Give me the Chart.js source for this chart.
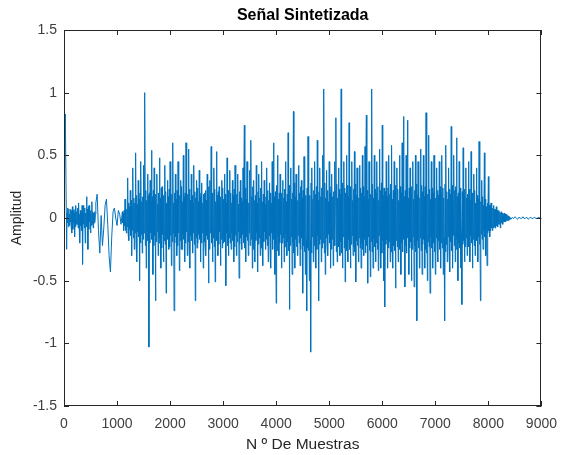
<!DOCTYPE html>
<html>
<head>
<meta charset="utf-8">
<script src="https://cdn.jsdelivr.net/npm/chart.js@4"></script>
<style>
  body { margin: 0; background: #fff; }
  #senal { display: block; }
</style>
</head>
<body>
<canvas id="senal" width="567" height="455"></canvas>
<script>
// separacion entre lecturas de la figura (en muestras)
const paso = 25;

// 0 - 1075: arranque de baja amplitud (picos leidos)
const inicio = [
  0.0, 0.83, -0.25, 0.08, -0.06, 0.07, -0.12, 0.06, -0.15, 0.1,
  -0.05, 0.12, -0.2, 0.05, -0.37, 0.1, -0.2, 0.17, -0.25, 0.1,
  -0.12, 0.13, -0.08, 0.05, 0.12, 0.19, -0.1, -0.28, 0.02, -0.22,
  -0.08, 0.1, 0.15, -0.05, -0.3, -0.43, -0.15, 0.05, 0.08, 0.0,
  -0.06, 0.06, 0.03, -0.05
];

// 1100 - 7975: cuerpo de la senal (picos leidos)
const cuerpo = [
  0.05, -0.1, 0.15, -0.12, 0.32, -0.18, 0.22, -0.3, 0.4, -0.25, 0.52, -0.35, 0.3, -0.5, 0.45, -0.28, 0.42, 1.0, -0.4, 0.35,
  -1.03, 0.3, 0.54, -0.45, 0.4, -0.66, 0.35, -0.3, 0.48, -0.4, 0.25, -0.35, 0.42, -0.6, 0.3, -0.25, 0.45, -0.38, 0.6, -0.74,
  0.35, -0.3, 0.45, -0.42, 0.3, -0.25, 0.5, -0.35, 0.6, -0.3, 0.55, -0.4, 0.35, -0.28, 0.42, -0.66, 0.3, -0.2, 0.38, -0.35,
  0.28, -0.4, 0.2, -0.3, 0.35, -0.52, 0.3, 0.57, -0.35, 0.4, -0.51, 0.53, -0.3, 0.25, -0.38, 0.3, -0.2, 0.35, -0.54, 0.48,
  -0.3, 0.38, -0.25, 0.3, -0.35, 0.42, -0.3, 0.35, -0.48, 0.3, -0.25, 0.4, 0.74, -0.35, 0.45, -0.3, 0.38, 0.62, -0.4, 0.3,
  -0.35, 0.42, -0.43, 0.35, -0.3, 0.45, -0.38, 0.3, -0.25, 0.4, -0.35, 0.28, -0.4, 0.45, 0.6, -0.45, -0.68, 0.5, -0.3, 0.35,
  -0.4, 0.3, -0.35, 0.45, -0.3, 0.68, -0.73, 0.4, -0.45, 0.85, -0.4, 0.35, -0.3, 0.42, -0.38, 0.3, -0.6, 0.49, -0.45, -0.74,
  0.65, -0.5, -1.07, 0.4, -0.35, 0.45, -0.4, 0.62, -0.66, 0.4, -0.35, 0.5, 1.03, -0.45, 0.38, -0.3, 0.45, -0.4, 0.35, -0.38,
  0.45, 0.8, -0.35, 0.4, -0.3, 1.03, -0.4, 0.45, -0.51, 0.5, -0.35, 0.76, -0.4, 0.45, -0.3, 0.53, -0.51, 0.4, -0.35, 0.42,
  -0.4, 0.5, -0.3, 0.57, 0.82, -0.52, 0.45, -0.47, 1.03, -0.4, 0.5, -0.35, 0.45, -0.42, 0.55, -0.4, 0.74, -0.5, -0.71, 0.45,
  -0.4, 0.5, -0.35, 0.58, -0.4, 0.45, -0.56, 0.4, -0.35, 0.5, -0.45, 0.6, 0.81, -0.55, 0.5, 0.78, -0.45, 0.4, -0.5, 0.45,
  -0.55, 0.5, -0.82, 0.45, -0.4, 0.55, -0.45, 0.5, -0.4, 0.84, -0.5, 0.66, -0.6, 0.45, -0.4, 0.5, -0.45, 0.4, -0.35, 0.45,
  -0.4, 0.5, -0.45, -0.82, 0.58, -0.35, 0.4, -0.43, 0.73, -0.4, 0.5, -0.35, 0.64, -0.5, 0.45, -0.4, -0.69, 0.56, -0.35, 0.4,
  -0.3, 0.45, -0.35, 0.53, -0.4, 0.35, -0.3, 0.4, -0.35, 0.61, -0.66, 0.3, -0.25, 0.52, -0.3, -0.38
];

// 8000 - 8975: decaimiento y silencio
const cola = [
  0.33, -0.15, 0.12, -0.1, 0.1, -0.08, 0.09, -0.07, 0.06, -0.08,
  0.05, -0.05, 0.04, -0.03, 0.03, -0.02, 0.01, -0.01, 0.005, -0.005,
  0.01, 0.0, -0.01, 0.005, 0.0, -0.005, 0.01, -0.005, 0.0, 0.005,
  -0.01, 0.0, 0.005, -0.005, 0.0, 0.005, -0.005, 0.0, 0.005, 0.0
];

// amplitud de la banda densa central en cada lectura (null = sin banda)
const nucleoInicio = [
  null, null, 0.04, 0.07, 0.03, 0.06, 0.09, 0.04, 0.07, 0.05,
  0.08, 0.03, 0.06, 0.1, 0.05, 0.08, 0.04, 0.07, 0.09, 0.03,
  0.06, 0.05, 0.04, 0.03, null, null, null, null, null, null,
  null, null, null, null, null, null, null, null, null, null,
  null, null, null, null
];

const nucleoCuerpo = [
  0.04, 0.06, 0.1, 0.07, 0.12, 0.09, 0.14, 0.1, 0.16, 0.12, 0.18, 0.11, 0.15, 0.2, 0.13, 0.17, 0.12, 0.22, 0.14, 0.18,
  0.2, 0.12, 0.17, 0.22, 0.14, 0.19, 0.11, 0.2, 0.16, 0.24, 0.13, 0.18, 0.21, 0.12, 0.17, 0.23, 0.14, 0.19, 0.12, 0.2,
  0.15, 0.22, 0.12, 0.18, 0.25, 0.13, 0.17, 0.2, 0.11, 0.19, 0.23, 0.14, 0.18, 0.12, 0.21, 0.16, 0.24, 0.13, 0.17, 0.2,
  0.12, 0.19, 0.22, 0.14, 0.17, 0.25, 0.12, 0.2, 0.16, 0.23, 0.13, 0.18, 0.21, 0.11, 0.17, 0.24, 0.15, 0.19, 0.12, 0.22,
  0.16, 0.2, 0.12, 0.18, 0.23, 0.14, 0.19, 0.11, 0.21, 0.16, 0.13, 0.2, 0.24, 0.15, 0.18, 0.12, 0.22, 0.17, 0.25, 0.14,
  0.18, 0.12, 0.21, 0.16, 0.24, 0.13, 0.19, 0.11, 0.17, 0.22, 0.14, 0.2, 0.12, 0.25, 0.17, 0.21, 0.26, 0.15, 0.2, 0.13,
  0.2, 0.16, 0.23, 0.13, 0.19, 0.26, 0.22, 0.15, 0.2, 0.28, 0.17, 0.23, 0.14, 0.2, 0.25, 0.16, 0.22, 0.27, 0.18, 0.24,
  0.26, 0.18, 0.28, 0.15, 0.22, 0.19, 0.25, 0.14, 0.21, 0.17, 0.24, 0.2, 0.28, 0.16, 0.22, 0.13, 0.2, 0.25, 0.17, 0.21,
  0.22, 0.27, 0.16, 0.23, 0.19, 0.28, 0.15, 0.24, 0.2, 0.26, 0.17, 0.25, 0.21, 0.14, 0.23, 0.27, 0.18, 0.22, 0.16, 0.24,
  0.2, 0.25, 0.17, 0.28, 0.22, 0.15, 0.26, 0.19, 0.27, 0.16, 0.23, 0.2, 0.25, 0.14, 0.22, 0.28, 0.18, 0.24, 0.21, 0.17,
  0.24, 0.19, 0.27, 0.15, 0.22, 0.26, 0.18, 0.23, 0.14, 0.25, 0.2, 0.27, 0.17, 0.22, 0.28, 0.16, 0.24, 0.19, 0.25, 0.15,
  0.22, 0.27, 0.18, 0.24, 0.16, 0.26, 0.21, 0.17, 0.25, 0.28, 0.19, 0.23, 0.15, 0.24, 0.2, 0.27, 0.16, 0.22, 0.18, 0.25,
  0.2, 0.24, 0.16, 0.27, 0.21, 0.15, 0.23, 0.19, 0.26, 0.14, 0.22, 0.25, 0.17, 0.2, 0.24, 0.13, 0.21, 0.18, 0.23, 0.16,
  0.19, 0.23, 0.14, 0.2, 0.17, 0.22, 0.12, 0.18, 0.15, 0.21, 0.13, 0.17, 0.1, 0.15, 0.09, 0.12
];

const nucleoCola = [
  0.1, 0.1, 0.08, 0.08, 0.07, 0.07, 0.06, 0.05, 0.05, 0.04,
  0.04, 0.03, 0.03, 0.02, 0.02, 0.015, null, null, null, null,
  null, null, null, null, null, null, null, null, null, null,
  null, null, null, null, null, null, null, null, null, null
];

const ticksX = [0, 1000, 2000, 3000, 4000, 5000, 6000, 7000, 8000, 9000];
const ticksY = [-1.5, -1, -0.5, 0, 0.5, 1, 1.5];

const amplitud = inicio.concat(cuerpo, cola);
const nucleo = nucleoInicio.concat(nucleoCuerpo, nucleoCola);

// cada lectura de pico va seguida de la banda central (oscilacion rapida)
const puntos = [];
amplitud.forEach((v, i) => {
  const x0 = i * paso;
  puntos.push({ x: x0, y: v });
  const n = nucleo[i];
  if (n !== null) {
    const s = v >= 0 ? 1 : -1;
    puntos.push({ x: x0 + paso / 3, y: -s * n });
    puntos.push({ x: x0 + 2 * paso / 3, y: s * n });
  }
});

// marco, marcas hacia adentro y titulo centrado sobre los ejes
const marco = {
  id: 'marco',
  afterDatasetsDraw(chart) {
    const { ctx, chartArea: a, scales: { x, y } } = chart;
    ctx.save();
    ctx.strokeStyle = '#262626';
    ctx.lineWidth = 1;
    ctx.beginPath();
    ticksX.forEach(t => {
      const px = Math.round(x.getPixelForValue(t)) + 0.5;
      ctx.moveTo(px, a.bottom); ctx.lineTo(px, a.bottom - 5);
      ctx.moveTo(px, a.top); ctx.lineTo(px, a.top + 5);
    });
    ticksY.forEach(t => {
      const py = Math.round(y.getPixelForValue(t)) + 0.5;
      ctx.moveTo(a.left, py); ctx.lineTo(a.left + 5, py);
      ctx.moveTo(a.right, py); ctx.lineTo(a.right - 5, py);
    });
    ctx.stroke();
    ctx.strokeRect(Math.round(a.left) + 0.5, Math.round(a.top) + 0.5,
      Math.round(a.right - a.left) - 1, Math.round(a.bottom - a.top) - 1);

    ctx.fillStyle = '#000';
    ctx.font = 'bold 16px "Liberation Sans", Arial, sans-serif';
    ctx.textAlign = 'center';
    ctx.textBaseline = 'middle';
    ctx.fillText('Señal Sintetizada', (a.left + a.right) / 2, 16);
    ctx.restore();
  }
};

new Chart(document.getElementById('senal'), {
  type: 'line',
  data: {
    datasets: [{
      data: puntos,
      borderColor: '#0072BD',
      borderWidth: 1,
      pointRadius: 0,
      tension: 0
    }]
  },
  options: {
    responsive: false,
    animation: false,
    layout: { padding: { left: 0, right: 24, top: 30, bottom: 0 } },
    plugins: {
      legend: { display: false },
      tooltip: { enabled: false }
    },
    scales: {
      x: {
        type: 'linear',
        min: 0,
        max: 9000,
        afterFit: s => { s.height = 49; },
        afterBuildTicks: s => { s.ticks = ticksX.map(v => ({ value: v })); },
        grid: { display: false, drawTicks: false },
        border: { display: false },
        ticks: {
          color: '#404040',
          font: { family: 'Liberation Sans, Arial, sans-serif', size: 14 },
          padding: 10,
          maxRotation: 0,
          callback: v => String(v)
        },
        title: {
          display: true,
          text: 'N º De Muestras',
          color: '#262626',
          font: { family: 'Liberation Sans, Arial, sans-serif', size: 15.5 },
          padding: { top: 0, bottom: 1 }
        }
      },
      y: {
        min: -1.5,
        max: 1.5,
        afterFit: s => { s.width = 64; },
        afterBuildTicks: s => { s.ticks = ticksY.map(v => ({ value: v })); },
        grid: { display: false, drawTicks: false },
        border: { display: false },
        ticks: {
          color: '#404040',
          font: { family: 'Liberation Sans, Arial, sans-serif', size: 14 },
          padding: 7,
          callback: v => String(v)
        },
        title: {
          display: true,
          text: 'Amplitud',
          color: '#262626',
          font: { family: 'Liberation Sans, Arial, sans-serif', size: 14 },
          padding: { top: 9, bottom: 0 }
        }
      }
    }
  },
  plugins: [marco]
});
</script>
</body>
</html>
